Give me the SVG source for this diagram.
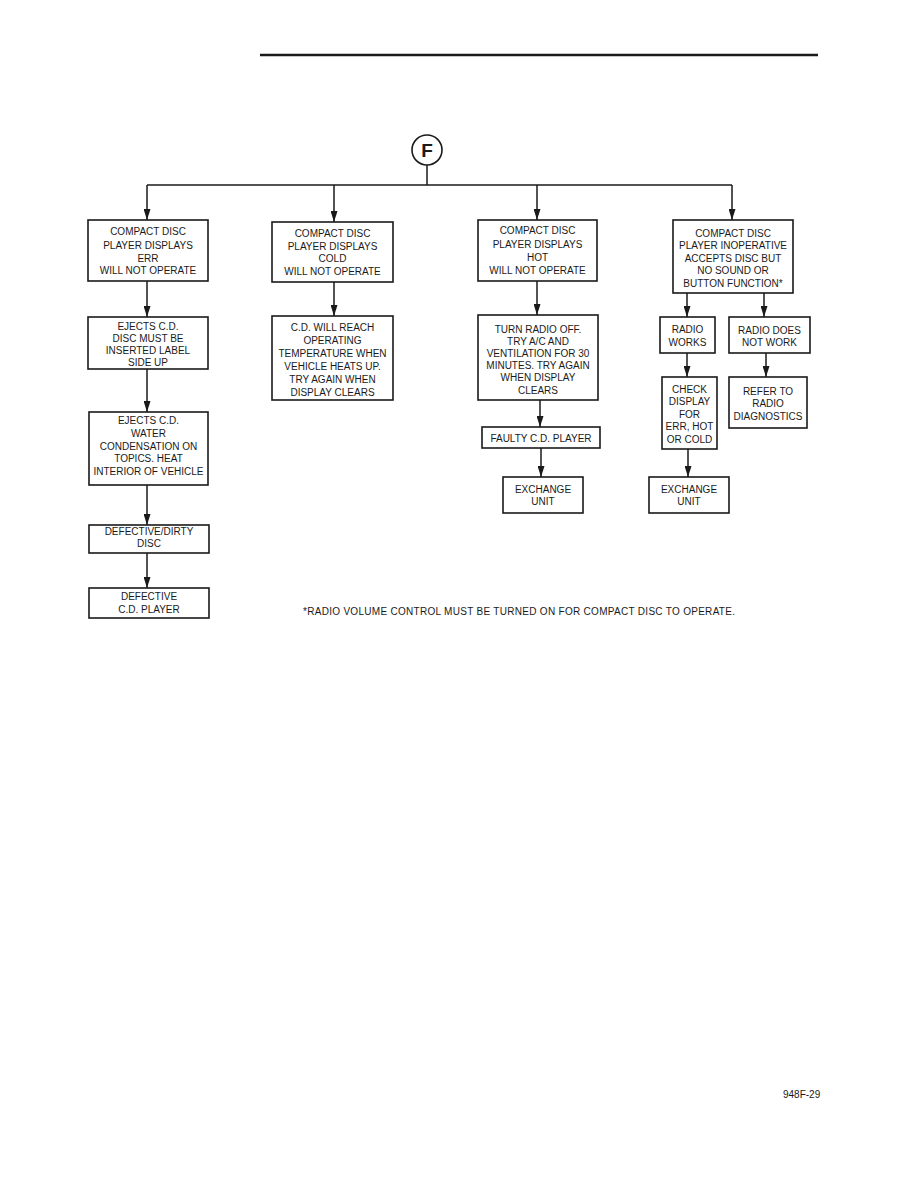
<svg xmlns="http://www.w3.org/2000/svg" width="918" height="1188" viewBox="0 0 918 1188">
<style>
  .box { fill: #ffffff; stroke: #1a1a1a; stroke-width: 1.6; }
  .t { font-family: "Liberation Sans", Arial, sans-serif; font-size: 10px; fill: #1a1a1a; text-anchor: middle; }
  .conn { fill: none; stroke: #1a1a1a; stroke-width: 1.5; }
  .note { font-family: "Liberation Sans", Arial, sans-serif; font-size: 10px; fill: #1a1a1a; }
</style>
<defs>
  <marker id="ah" markerUnits="userSpaceOnUse" markerWidth="11" markerHeight="7" refX="11" refY="3.5" orient="auto" viewBox="0 0 11 7">
    <path d="M0,0 L11,3.5 L0,7 Z" fill="#1a1a1a"/>
  </marker>
</defs>
<rect width="918" height="1188" fill="#ffffff"/>
<line x1="260" y1="55" x2="818" y2="55" stroke="#1a1a1a" stroke-width="2.5"/>

<g id="connectors">
  <path class="conn" d="M427,165 V185"/>
  <path class="conn" d="M147,185 H732"/>
  <path class="conn" d="M147,185 V220" marker-end="url(#ah)"/>
  <path class="conn" d="M334,185 V222" marker-end="url(#ah)"/>
  <path class="conn" d="M537,185 V220" marker-end="url(#ah)"/>
  <path class="conn" d="M732,185 V220" marker-end="url(#ah)"/>
  <path class="conn" d="M147,281 V317" marker-end="url(#ah)"/>
  <path class="conn" d="M147,369 V412" marker-end="url(#ah)"/>
  <path class="conn" d="M147,485 V525" marker-end="url(#ah)"/>
  <path class="conn" d="M147,553 V588" marker-end="url(#ah)"/>
  <path class="conn" d="M334,282 V316" marker-end="url(#ah)"/>
  <path class="conn" d="M537,281 V315" marker-end="url(#ah)"/>
  <path class="conn" d="M540,400 V427" marker-end="url(#ah)"/>
  <path class="conn" d="M541,448 V477" marker-end="url(#ah)"/>
  <path class="conn" d="M687,293 V317" marker-end="url(#ah)"/>
  <path class="conn" d="M764,293 V317" marker-end="url(#ah)"/>
  <path class="conn" d="M687,353 V377" marker-end="url(#ah)"/>
  <path class="conn" d="M766,353 V377" marker-end="url(#ah)"/>
  <path class="conn" d="M688,449 V477" marker-end="url(#ah)"/>
</g>

<g id="startF">
  <circle cx="427" cy="150" r="15" fill="#ffffff" stroke="#1a1a1a" stroke-width="1.6"/>
  <text x="427" y="157" font-family="Liberation Sans, Arial, sans-serif" font-size="19" font-weight="bold" fill="#1a1a1a" text-anchor="middle">F</text>
</g>

<g id="err">
  <rect class="box" x="88" y="220" width="120" height="61"/>
  <text class="t" x="148" y="234.5">COMPACT DISC</text>
  <text class="t" x="148" y="249">PLAYER DISPLAYS</text>
  <text class="t" x="148" y="262">ERR</text>
  <text class="t" x="148" y="274">WILL NOT OPERATE</text>
</g>
<g id="cold">
  <rect class="box" x="272" y="222" width="121" height="60"/>
  <text class="t" x="332.5" y="236.6">COMPACT DISC</text>
  <text class="t" x="332.5" y="249.6">PLAYER DISPLAYS</text>
  <text class="t" x="332.5" y="262.1">COLD</text>
  <text class="t" x="332.5" y="274.6">WILL NOT OPERATE</text>
</g>
<g id="hot">
  <rect class="box" x="478" y="220" width="119" height="61"/>
  <text class="t" x="537.5" y="234">COMPACT DISC</text>
  <text class="t" x="537.5" y="248">PLAYER DISPLAYS</text>
  <text class="t" x="537.5" y="261.3">HOT</text>
  <text class="t" x="537.5" y="273.6">WILL NOT OPERATE</text>
</g>
<g id="inop">
  <rect class="box" x="673" y="220" width="120" height="73"/>
  <text class="t" x="733" y="236.6">COMPACT DISC</text>
  <text class="t" x="733" y="249.1">PLAYER INOPERATIVE</text>
  <text class="t" x="733" y="261.6">ACCEPTS DISC BUT</text>
  <text class="t" x="733" y="274.1">NO SOUND OR</text>
  <text class="t" x="733" y="286.6">BUTTON FUNCTION*</text>
</g>

<g id="ejects1">
  <rect class="box" x="88" y="317" width="120" height="52"/>
  <text class="t" x="148" y="329.5">EJECTS C.D.</text>
  <text class="t" x="148" y="341.5">DISC MUST BE</text>
  <text class="t" x="148" y="353.5">INSERTED LABEL</text>
  <text class="t" x="148" y="365.5">SIDE UP</text>
</g>
<g id="coldfix">
  <rect class="box" x="272" y="316" width="121" height="84"/>
  <text class="t" x="332.5" y="330.6">C.D. WILL REACH</text>
  <text class="t" x="332.5" y="343.6">OPERATING</text>
  <text class="t" x="332.5" y="356.6">TEMPERATURE WHEN</text>
  <text class="t" x="332.5" y="369.6">VEHICLE HEATS UP.</text>
  <text class="t" x="332.5" y="382.6">TRY AGAIN WHEN</text>
  <text class="t" x="332.5" y="395.6">DISPLAY CLEARS</text>
</g>
<g id="hotfix">
  <rect class="box" x="478" y="315" width="120" height="85"/>
  <text class="t" x="538" y="332.6">TURN RADIO OFF.</text>
  <text class="t" x="538" y="344.6">TRY A/C AND</text>
  <text class="t" x="538" y="356.6">VENTILATION FOR 30</text>
  <text class="t" x="538" y="369.1">MINUTES. TRY AGAIN</text>
  <text class="t" x="538" y="381.1">WHEN DISPLAY</text>
  <text class="t" x="538" y="393.6">CLEARS</text>
</g>
<g id="radioworks">
  <rect class="box" x="660" y="317" width="55" height="36"/>
  <text class="t" x="687.5" y="332.6">RADIO</text>
  <text class="t" x="687.5" y="345.6">WORKS</text>
</g>
<g id="radionot">
  <rect class="box" x="729" y="317" width="81" height="36"/>
  <text class="t" x="769.5" y="333.6">RADIO DOES</text>
  <text class="t" x="769.5" y="345.9">NOT WORK</text>
</g>

<g id="ejects2">
  <rect class="box" x="89" y="412" width="119" height="73"/>
  <text class="t" x="148.5" y="423.6">EJECTS C.D.</text>
  <text class="t" x="148.5" y="436.9">WATER</text>
  <text class="t" x="148.5" y="449.6">CONDENSATION ON</text>
  <text class="t" x="148.5" y="461.9">TOPICS. HEAT</text>
  <text class="t" x="148.5" y="474.6">INTERIOR OF VEHICLE</text>
</g>
<g id="checkdisplay">
  <rect class="box" x="662" y="377" width="55" height="72"/>
  <text class="t" x="689.5" y="392.6">CHECK</text>
  <text class="t" x="689.5" y="405.3">DISPLAY</text>
  <text class="t" x="689.5" y="417.9">FOR</text>
  <text class="t" x="689.5" y="430.3">ERR, HOT</text>
  <text class="t" x="689.5" y="442.9">OR COLD</text>
</g>
<g id="refer">
  <rect class="box" x="729" y="377" width="78" height="51"/>
  <text class="t" x="768" y="395.3">REFER TO</text>
  <text class="t" x="768" y="406.9">RADIO</text>
  <text class="t" x="768" y="419.6">DIAGNOSTICS</text>
</g>
<g id="faulty">
  <rect class="box" x="482" y="427" width="118" height="21"/>
  <text class="t" x="541" y="441.9">FAULTY C.D. PLAYER</text>
</g>
<g id="exchange1">
  <rect class="box" x="503" y="477" width="80" height="36"/>
  <text class="t" x="543" y="492.9">EXCHANGE</text>
  <text class="t" x="543" y="505.3">UNIT</text>
</g>
<g id="exchange2">
  <rect class="box" x="649" y="477" width="80" height="36"/>
  <text class="t" x="689" y="492.9">EXCHANGE</text>
  <text class="t" x="689" y="505.3">UNIT</text>
</g>
<g id="dirty">
  <rect class="box" x="89" y="525" width="120" height="28"/>
  <text class="t" x="149" y="535.3">DEFECTIVE/DIRTY</text>
  <text class="t" x="149" y="546.9">DISC</text>
</g>
<g id="defective">
  <rect class="box" x="89" y="588" width="120" height="30"/>
  <text class="t" x="149" y="600.3">DEFECTIVE</text>
  <text class="t" x="149" y="612.9">C.D. PLAYER</text>
</g>

<text class="note" x="303" y="615" textLength="432" lengthAdjust="spacing">*RADIO VOLUME CONTROL MUST BE TURNED ON FOR COMPACT DISC TO OPERATE.</text>
<text class="note" x="783" y="1098" font-size="11">948F-29</text>
</svg>
